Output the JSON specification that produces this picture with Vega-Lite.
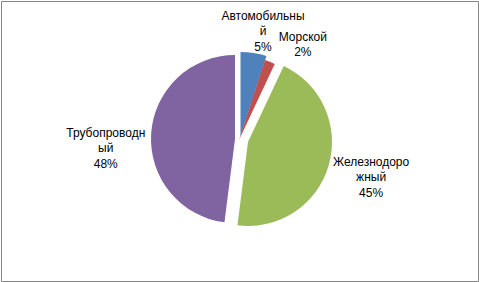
{
  "$schema": "https://vega.github.io/schema/vega-lite/v6.json",
  "width": 477,
  "height": 280,
  "padding": 1,
  "autosize": {"type": "none"},
  "background": "#ffffff",
  "view": {"stroke": "#868686", "strokeWidth": 1, "fill": "#ffffff"},
  "config": {"view": {"stroke": "#868686", "strokeWidth": 1}},
  "data": {
    "values": [
      {"category": "Автомобильный", "value": 5, "label": "Автомобильны\nй\n5%"},
      {"category": "Морской", "value": 2, "label": "Морской\n2%"},
      {"category": "Железнодорожный", "value": 45, "label": "Железнодоро\nжный\n45%"},
      {"category": "Трубопроводный", "value": 48, "label": "Трубопроводн\nый\n48%"}
    ]
  },
  "transform": [{"window": [{"op": "row_number", "as": "idx"}]}],
  "encoding": {
    "theta": {"field": "value", "type": "quantitative", "stack": true},
    "order": {"field": "idx", "type": "quantitative"},
    "color": {
      "field": "category",
      "type": "nominal",
      "legend": null,
      "scale": {
        "domain": ["Автомобильный", "Морской", "Железнодорожный", "Трубопроводный"],
        "range": ["#4F81BD", "#C0504D", "#9BBB59", "#8064A2"]
      }
    }
  },
  "layer": [
    {
      "mark": {"type": "arc", "outerRadius": 84, "xOffset": 1, "yOffset": -5},
      "encoding": {"opacity": {"condition": {"test": "datum.category === 'Автомобильный'", "value": 1}, "value": 0}}
    },
    {
      "mark": {"type": "arc", "outerRadius": 84, "xOffset": -0.5, "yOffset": -1},
      "encoding": {"opacity": {"condition": {"test": "datum.category === 'Морской'", "value": 1}, "value": 0}}
    },
    {
      "mark": {"type": "arc", "outerRadius": 84, "xOffset": 8.5, "yOffset": 1},
      "encoding": {"opacity": {"condition": {"test": "datum.category === 'Железнодорожный'", "value": 1}, "value": 0}}
    },
    {
      "mark": {"type": "arc", "outerRadius": 84, "xOffset": -4.5, "yOffset": -2},
      "encoding": {"opacity": {"condition": {"test": "datum.category === 'Трубопроводный'", "value": 1}, "value": 0}}
    },
    {
      "mark": {"type": "text", "radius": 112, "dx": 6, "dy": -14.5, "font": "Liberation Sans", "fontSize": 12, "lineHeight": 15.5, "lineBreak": "\n", "align": "center", "baseline": "middle"},
      "encoding": {
        "text": {"field": "label"},
        "color": {"value": "#000000"},
        "opacity": {"condition": {"test": "datum.category === 'Автомобильный'", "value": 1}, "value": 0}
      }
    },
    {
      "mark": {"type": "text", "radius": 115, "dx": 21, "dy": 2.5, "font": "Liberation Sans", "fontSize": 12, "lineHeight": 15.5, "lineBreak": "\n", "align": "center", "baseline": "middle"},
      "encoding": {
        "text": {"field": "label"},
        "color": {"value": "#000000"},
        "opacity": {"condition": {"test": "datum.category === 'Морской'", "value": 1}, "value": 0}
      }
    },
    {
      "mark": {"type": "text", "radius": 136, "dx": 1, "dy": -17, "font": "Liberation Sans", "fontSize": 12, "lineHeight": 15.5, "lineBreak": "\n", "align": "center", "baseline": "middle"},
      "encoding": {
        "text": {"field": "label"},
        "color": {"value": "#000000"},
        "opacity": {"condition": {"test": "datum.category === 'Железнодорожный'", "value": 1}, "value": 0}
      }
    },
    {
      "mark": {"type": "text", "radius": 134, "dx": 0, "dy": 0, "font": "Liberation Sans", "fontSize": 12, "lineHeight": 15.5, "lineBreak": "\n", "align": "center", "baseline": "middle"},
      "encoding": {
        "text": {"field": "label"},
        "color": {"value": "#000000"},
        "opacity": {"condition": {"test": "datum.category === 'Трубопроводный'", "value": 1}, "value": 0}
      }
    }
  ]
}
